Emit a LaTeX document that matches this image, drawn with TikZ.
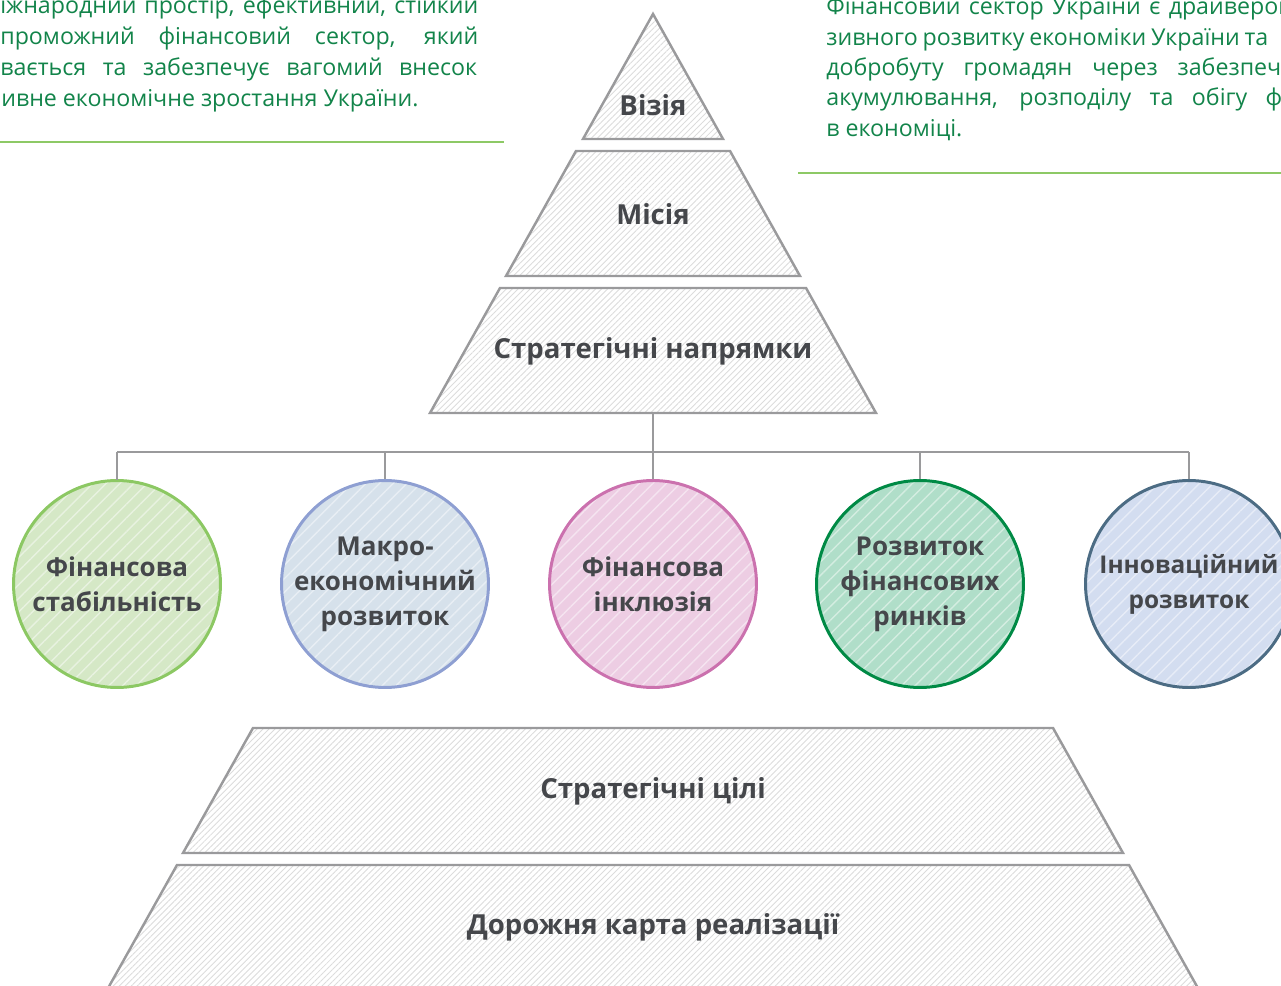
\documentclass[tikz,border=0pt]{standalone}
\usepackage{fontspec}
\setmainfont{Open Sans}
\usepackage{xcolor}
\definecolor{ink}{HTML}{45474B}
\definecolor{frame}{HTML}{9A9A9C}
\definecolor{textgreen}{HTML}{12844A}
\definecolor{rulegreen}{HTML}{8DC965}
\definecolor{stabline}{HTML}{8CC863}
\definecolor{stabfill}{HTML}{D5E8C6}
\definecolor{macroline}{HTML}{8E9FD2}
\definecolor{macrofill}{HTML}{D6E1EB}
\definecolor{inclline}{HTML}{CB71AE}
\definecolor{inclfill}{HTML}{EDCDE3}
\definecolor{mktline}{HTML}{008A45}
\definecolor{mktfill}{HTML}{B0DEC9}
\definecolor{innoline}{HTML}{4C6C84}
\definecolor{innofill}{HTML}{D3DDF0}
\usepackage{tikz}
\usetikzlibrary{patterns.meta, positioning, calc}

\begin{document}
\begin{tikzpicture}[
  x=0.02cm, y=-0.02cm,
  every node/.style={font=\fontsize{15.7}{20}\selectfont\bfseries, text=ink},
  tier/.style={draw=frame, line width=1.4pt, line join=miter,
               pattern={Lines[angle=45, distance=2.4pt, line width=0.5pt]},
               pattern color=frame!35},
  disc/.style 2 args={circle, draw=#1, line width=1.7pt, minimum size=4.14cm,
               inner sep=0pt, align=center,
               font=\fontsize{14.8}{19.9}\selectfont\bfseries,
               preaction={fill=#2},
               pattern={Lines[angle=45, distance=5.5pt, line width=0.8pt]},
               pattern color=white!45!#2},
  body/.style={font=\fontsize{13.2}{17.6}\selectfont, text=textgreen, inner sep=0pt},
  rule/.style={draw=rulegreen, line width=1.1pt},
  link/.style={draw=frame, line width=1.1pt},
]
\useasboundingbox (0,0) rectangle (1281,986);

% Vision text (left) and mission text (right)
\node[body, anchor=base west] (vis1) at (0,14)  {\makebox[9.56cm][s]{іжнародний простір, ефективний, стійкий}};
\node[body, anchor=base west] (vis2) at (0,45)  {\makebox[9.56cm][s]{проможний фінансовий сектор, який}};
\node[body, anchor=base west] (vis3) at (0,76)  {\makebox[9.54cm][s]{вається та забезпечує вагомий внесок}};
\node[body, anchor=base west] (vis4) at (1,107) {ивне економічне зростання України.};
\draw[rule] (0,142) -- (504,142);

\node[body, anchor=base west] (mis1) at (826,15)  {\makebox[9.38cm][s]{Фінансовий сектор України є драйвером}};
\node[body, anchor=base west] (mis2) at (826,46)  {\makebox[8.84cm][s]{зивного розвитку економіки України та}};
\node[body, anchor=base west] (mis3) at (826,76)  {\makebox[9.1cm][s]{добробуту громадян через забезпеч}};
\node[body, anchor=base west] (mis4) at (826,106) {\makebox[9.12cm][s]{акумулювання, розподілу та обігу ф}};
\node[body, anchor=base west] (mis5) at (826,137) {в економіці.};
\draw[rule] (798,173) -- (1281,173);

% Pyramid — top
\draw[tier] (653,14) -- (723,139) -- (583,139) -- cycle;
\draw[tier] (576,151) -- (730,151) -- (800,276) -- (506,276) -- cycle;
\draw[tier] (500,288) -- (806,288) -- (876,413) -- (430,413) -- cycle;
\node (vision)     at (653,105) {Візія};
\node (mission)    at (653,214) {Місія};
\node (directions) at (653,351) {Стратегічні напрямки};
\coordinate (dirbase) at (653,413);

% Strategic directions
\node[disc={stabline}{stabfill}]   (stability)  at (117,584)  {Фінансова\\стабільність};
\node[disc={macroline}{macrofill}] (macro)      at (385,584)  {Макро-\\економічний\\розвиток};
\node[disc={inclline}{inclfill}]   (inclusion)  at (653,584)  {Фінансова\\інклюзія};
\node[disc={mktline}{mktfill}]     (markets)    at (920,584)  {Розвиток\\фінансових\\ринків};
\node[disc={innoline}{innofill}, font=\fontsize{13.9}{19.9}\selectfont\bfseries]
     (innovation) at (1189,584) {Інноваційний\\розвиток};

% Connectors
\coordinate (bus) at (653,452);
\draw[link] (dirbase) -- (bus);
\draw[link] (stability.north |- bus) -- (innovation.north |- bus);
\foreach \n in {stability,macro,inclusion,markets,innovation}
  \draw[link] (\n.north |- bus) -- (\n.north);

% Pyramid — base
\draw[tier] (253,728) -- (1053,728) -- (1123,853) -- (183,853) -- cycle;
\draw[tier] (177,865) -- (1129,865) -- (1199,990) -- (107,990) -- cycle;
\node (goals)   at (653,791) {Стратегічні цілі};
\node (roadmap) at (653,927) {Дорожня карта реалізації};

\end{tikzpicture}
\end{document}
